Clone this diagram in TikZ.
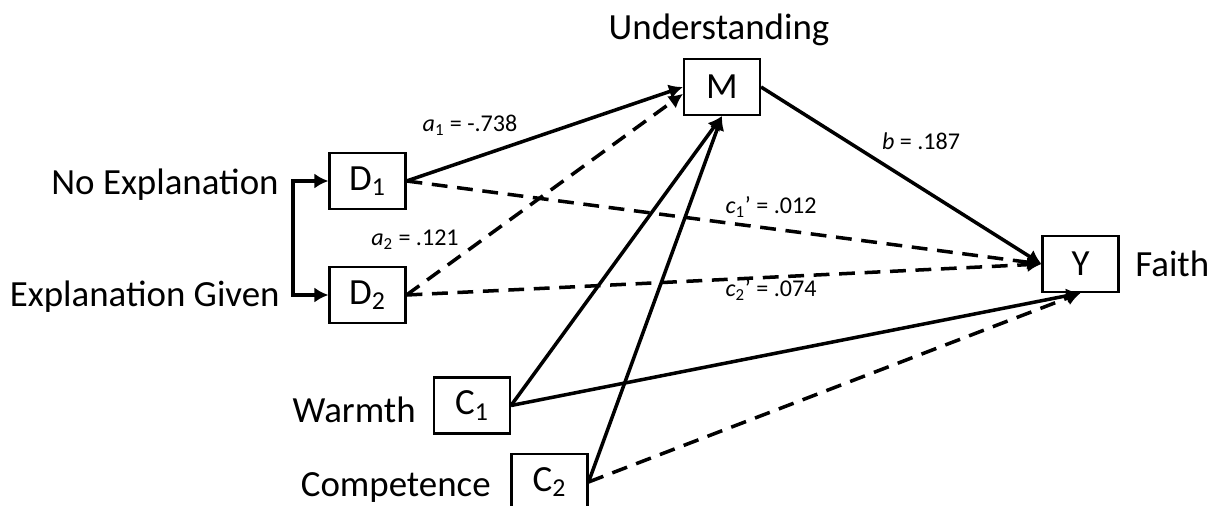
\documentclass[tikz,border=0pt]{standalone}
\usepackage{fontspec}
\setmainfont{Carlito}
\usetikzlibrary{arrows.meta, positioning}

\begin{document}
\begin{tikzpicture}[x=0.02cm, y=-0.02cm,
  box/.style={draw, line width=1.2pt, minimum width=1.52cm, minimum height=1.12cm, inner sep=0pt, font=\fontsize{21}{24}\selectfont},
  lbl/.style={font=\fontsize{21}{24}\selectfont, inner sep=0pt},
  coef/.style={font=\fontsize{13.7}{16}\selectfont, inner sep=0pt},
  arr/.style={-{Latex[length=2.8mm, width=3mm]}, line width=2pt},
  dsh/.style={arr, dash pattern=on 9pt off 5.5pt}
]
\useasboundingbox (0,0) rectangle (1211,506);
\node[box] (M) at (722,87) {M};
\node[box] (D1) at (367.5,181) {D\textsubscript{1}};
\node[box] (D2) at (367.5,295) {D\textsubscript{2}};
\node[box] (C1) at (472,405.5) {C\textsubscript{1}};
\node[box] (C2) at (549.5,482) {C\textsubscript{2}};
\node[box] (Y) at (1080.5,264) {Y};
\node[lbl] (und) at (719,30) {Understanding};
\node[lbl, anchor=east] (noexp) at (279,185) {No Explanation};
\node[lbl, anchor=east] (expg) at (280,297) {Explanation Given};
\node[lbl, anchor=east] (warm) at (416,410) {Warmth};
\node[lbl, anchor=east] (comp) at (491,488) {Competence};
\node[lbl, anchor=west] (faith) at (1135,264) {Faith};
\coordinate (fork) at (293,238);
\draw[arr] (fork) |- (D1.west);
\draw[arr] (fork) |- (D2.west);
% paths to M
\draw[arr] (D1.east) -- (M.west);
\draw[dsh] (D2.east) -- (M.190);
\draw[arr] (C1.east) -- (M.south);
\draw[arr] (C2.east) -- (M.south);
% paths to Y
\draw[arr] (M.east) -- (Y.west);
\draw[dsh] (D1.east) -- (Y.west);
\draw[dsh] (D2.east) -- (Y.west);
\draw[arr] (C1.east) -- (Y.south);
\draw[dsh] (C2.east) -- (Y.south);
% coefficients
\node[coef] (ca1) at (470,125) {\textit{a}\textsubscript{1} = -.738};
\node[coef] (ca2) at (415,240) {\textit{a}\textsubscript{2} = .121};
\node[coef] (cb) at (921,141) {\textit{b} = .187};
\node[coef] (cc1) at (771,207) {\textit{c}\textsubscript{1}’ = .012};
\node[coef] (cc2) at (771,290) {\textit{c}\textsubscript{2}’ = .074};
\end{tikzpicture}
\end{document}
